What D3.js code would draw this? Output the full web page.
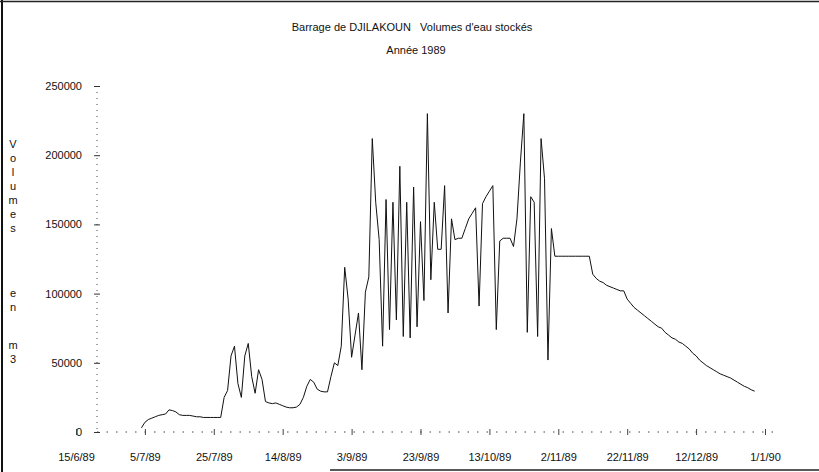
<!DOCTYPE html>
<html>
<head>
<meta charset="utf-8">
<script src="https://cdn.jsdelivr.net/npm/d3@7/dist/d3.min.js"></script>
<style>
  body { margin: 0; background: #fff; }
  svg { display: block; font-family: "Liberation Sans", Arial, sans-serif; }
</style>
</head>
<body>
<div id="chart"></div>
<script>
"use strict";

// daily stored volume (m3), first non-empty reading is 4/7/89
var startDate = "4/7/89";
var volumes = [
  3000, 7000, 9000, 10000, 11000, 12000, 12500, 13000, 16000, 15500,
  14500, 12500, 12000, 12000, 12000, 11500, 11000, 11000, 10500, 10500,
  10500, 10500, 10500, 10500,
  25000, 30000, 55000, 62000, 35000, 25000, 55000, 64000, 40000, 28000,
  45000, 38000, 22000, 21000, 20500, 21000, 20000, 19000, 18000, 17500,
  17500, 18000, 20000, 25000, 33000, 38000, 36000, 31000, 29500, 29000, 29000,
  40000, 50000, 48000, 62000, 119000, 96000, 54000, 70000, 86000, 45000,
  101000, 112000, 212000, 166000, 139000, 62000, 168000, 74000, 166000, 81000,
  192000, 69000, 166000, 68000, 177000, 76000, 152000, 95000, 230000, 110000,
  166000, 132000, 132000, 178000, 86000, 154000, 139000, 140000, 140000, 147000,
  154000, 158000, 162000, 91000, 165000, 170000, 174000, 178000, 74000, 138000,
  140000, 140000, 140000, 134000, 154000, 195000, 230000, 72000, 170000, 166000,
  69000, 212000, 183000, 52000, 147000,
  127000, 127000, 127000, 127000, 127000, 127000, 127000, 127000, 127000, 127000, 127000,
  114000, 111000, 109000, 108000, 106000, 105000, 104000, 103000, 102000, 102000,
  96000, 93000, 90000, 88000, 86000, 84000, 82000, 80000, 78000, 76000,
  75000, 72000, 70000, 68000, 67000, 65000, 64000, 62000, 60000, 57000,
  55000, 52000, 50000, 48000, 46500, 45000, 43500, 42000, 41000, 40000,
  39000, 37500, 36000, 34500, 33000, 32000, 30500, 29500
];

var xTickLabels = ["15/6/89", "5/7/89", "25/7/89", "14/8/89", "3/9/89", "23/9/89",
  "13/10/89", "2/11/89", "22/11/89", "12/12/89", "1/1/90"];
var yTicks = [0, 50000, 100000, 150000, 200000, 250000];

var title = "Barrage de DJILAKOUN   Volumes d'eau stockés";
var subtitle = "Année 1989";
// axis title is written one letter per line
var yTitleGroups = [["V", "o", "l", "u", "m", "e", "s"], ["e", "n"], ["m", "3"]];

var width = 819,
    height = 472;

var parseDate = d3.timeParse("%d/%m/%y");
var formatDate = d3.timeFormat("%-d/%-m/%y");

var tickDates = xTickLabels.map(parseDate);
var first = parseDate(startDate);
var series = volumes.map(function (v, i) {
  return { date: d3.timeDay.offset(first, i), value: v };
});

var svg = d3.select("#chart").append("svg")
  .attr("width", width)
  .attr("height", height);

// frame of the scanned sheet
svg.append("line").attr("x1", 2).attr("x2", 2).attr("y1", 0).attr("y2", height)
  .attr("stroke", "#111").attr("stroke-width", 2);
svg.append("line").attr("x1", 0).attr("x2", width).attr("y1", 1.5).attr("y2", 1.5)
  .attr("stroke", "#222").attr("stroke-width", 1.5);
svg.append("line").attr("x1", 330).attr("x2", width).attr("y1", 470).attr("y2", 470)
  .attr("stroke", "#222").attr("stroke-width", 1.5);

var x = d3.scaleTime()
  .domain([tickDates[0], tickDates[tickDates.length - 1]])
  .range([76, 765]);

var y = d3.scaleLinear()
  .domain([0, 250000])
  .range([432, 86]);

var plotLeft = 97,
    plotRight = 775;

// titles
svg.append("text")
  .attr("x", 412).attr("y", 31)
  .attr("text-anchor", "middle")
  .style("font-size", "11px")
  .attr("fill", "#111")
  .attr("xml:space", "preserve")
  .text(title);

svg.append("text")
  .attr("x", 416).attr("y", 54)
  .attr("text-anchor", "middle")
  .style("font-size", "11px")
  .attr("fill", "#111")
  .text(subtitle);

// y axis title, letter by letter
var groupTop = [148, 297, 349];
yTitleGroups.forEach(function (group, g) {
  group.forEach(function (ch, i) {
    svg.append("text")
      .attr("x", 13).attr("y", groupTop[g] + i * 14)
      .attr("text-anchor", "middle")
      .style("font-size", "11px")
      .attr("fill", "#111")
      .text(ch);
  });
});

// dotted axis lines
svg.append("line")
  .attr("x1", plotLeft).attr("x2", plotLeft)
  .attr("y1", y(250000)).attr("y2", y(0))
  .attr("stroke", "#444").attr("stroke-width", 1)
  .attr("stroke-dasharray", "1,5");

svg.append("line")
  .attr("x1", plotLeft).attr("x2", plotRight)
  .attr("y1", y(0)).attr("y2", y(0))
  .attr("stroke", "#444").attr("stroke-width", 1)
  .attr("stroke-dasharray", "1.5,8");

var yAxis = d3.axisLeft(y)
  .tickValues(yTicks)
  .tickFormat(d3.format("d"))
  .tickSize(0)
  .tickPadding(15);

var yAxisG = svg.append("g")
  .attr("transform", "translate(" + plotLeft + ",0)")
  .call(yAxis);
yAxisG.select(".domain").remove();
yAxisG.selectAll(".tick line")
  .attr("x1", -3).attr("x2", 3)
  .attr("stroke", "#333");
yAxisG.selectAll(".tick text")
  .style("font-size", "11px")
  .style("font-family", "Liberation Sans, Arial, sans-serif")
  .attr("fill", "#111");

var xAxis = d3.axisBottom(x)
  .tickValues(tickDates)
  .tickFormat(formatDate)
  .tickSize(0)
  .tickPadding(21);

var xAxisG = svg.append("g")
  .attr("transform", "translate(0," + y(0) + ")")
  .call(xAxis);
xAxisG.select(".domain").remove();
// small crossing tick at each labelled date
xAxisG.selectAll(".tick line")
  .attr("y1", -3).attr("y2", 3)
  .attr("stroke", "#444");
xAxisG.selectAll(".tick text")
  .style("font-size", "11px")
  .style("font-family", "Liberation Sans, Arial, sans-serif")
  .attr("fill", "#111");

// the stored volume curve
var line = d3.line()
  .x(function (d) { return x(d.date); })
  .y(function (d) { return y(d.value); });

svg.append("path")
  .datum(series)
  .attr("d", line)
  .attr("fill", "none")
  .attr("stroke", "#111")
  .attr("stroke-width", 1);
</script>
</body>
</html>
